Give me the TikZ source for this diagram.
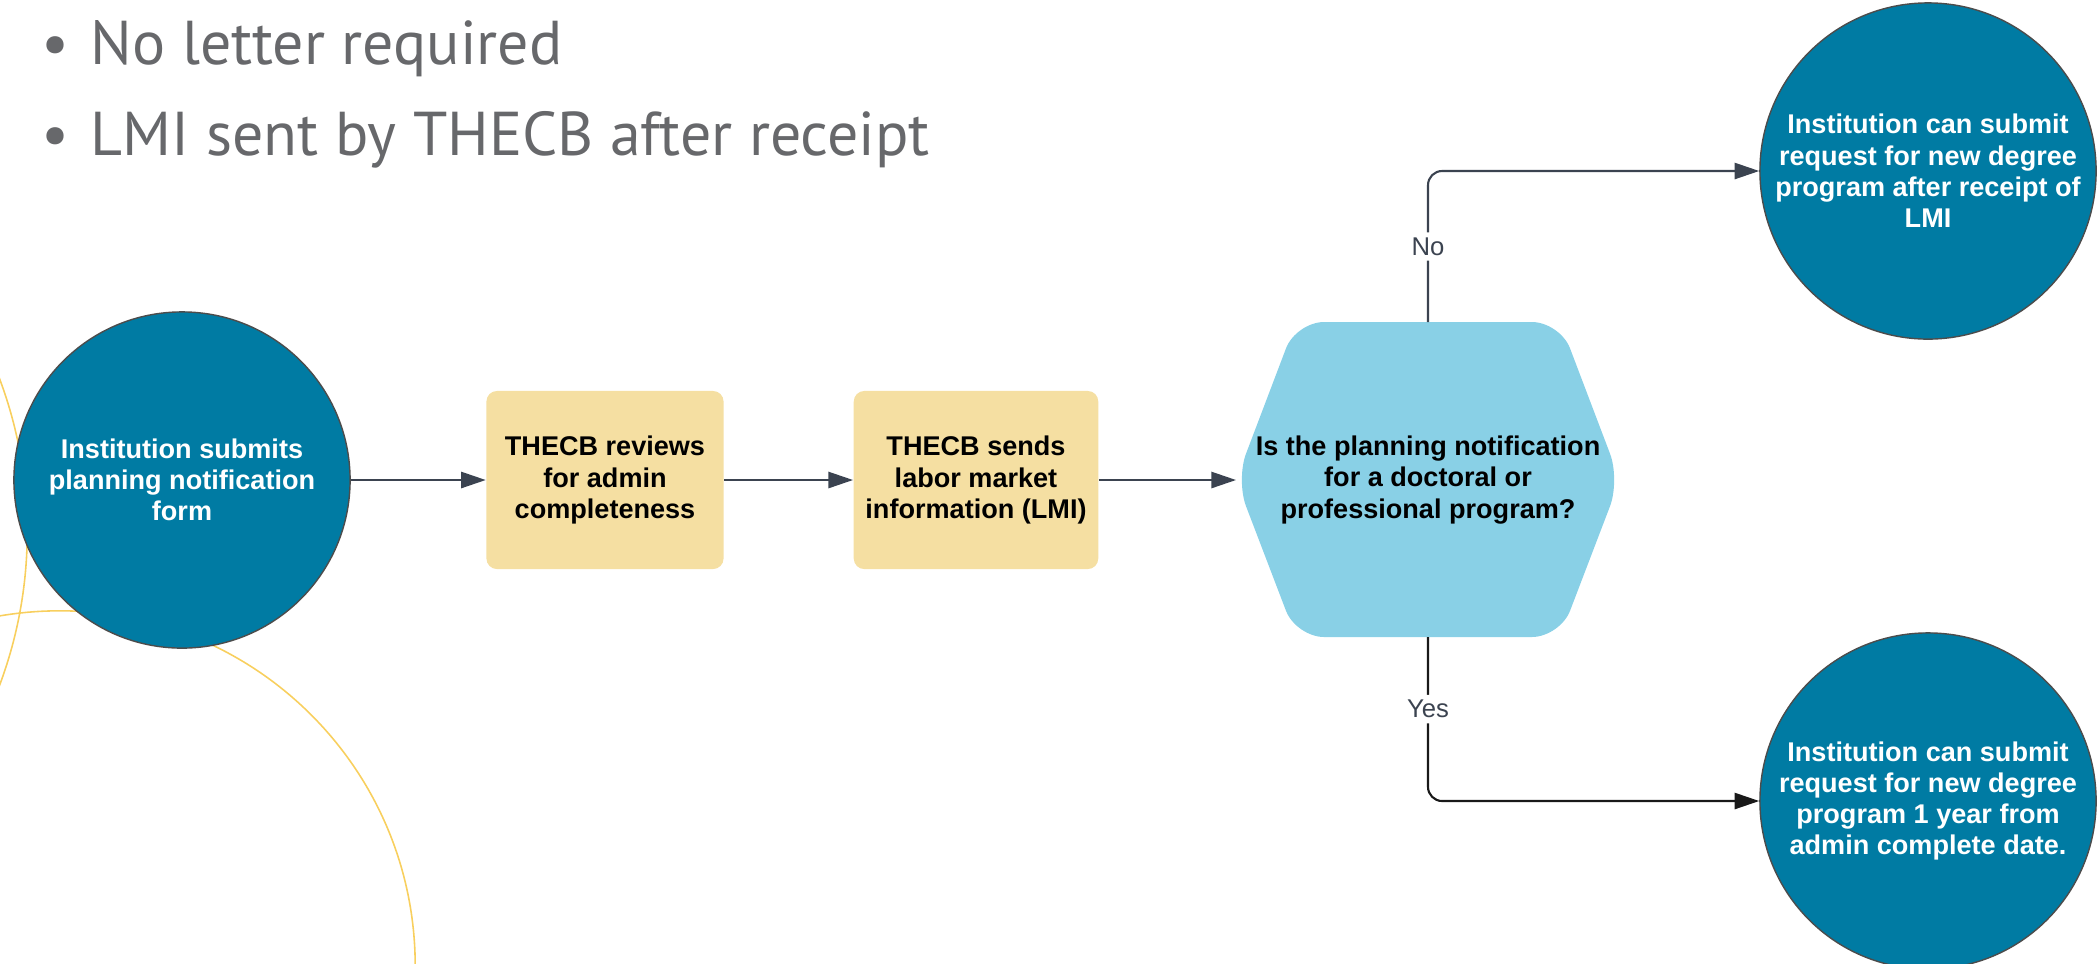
\documentclass[tikz,border=0pt]{standalone}
\usepackage{fontspec}
\usetikzlibrary{arrows.meta,positioning}
\newfontfamily\arialf{Liberation Sans}
\newfontfamily\ptsans{PT Sans}
\definecolor{thecbblue}{HTML}{007BA3}
\definecolor{boxtan}{HTML}{F5DFA2}
\definecolor{hexblue}{HTML}{89D0E6}
\definecolor{linegray}{HTML}{3B4350}
\definecolor{goldline}{HTML}{F8CF5E}
\definecolor{bulletgray}{HTML}{67686B}

\begin{document}
\begin{tikzpicture}[x=0.01cm,y=-0.01cm,
    bluecirc/.style={circle,fill=thecbblue,draw=black!70,line width=0.4pt,minimum size=3.36cm,inner sep=0pt,
      text=white,align=center,font=\arialf\bfseries\fontsize{7.7}{8.9}\selectfont},
    tanbox/.style={rectangle,rounded corners=3pt,fill=boxtan,minimum width=2.37cm,minimum height=1.78cm,
      align=center,font=\arialf\bfseries\fontsize{7.7}{8.9}\selectfont},
    flow/.style={line width=0.6pt,draw=linegray,-{Triangle[length=7pt,width=4.6pt]}},
    lbl/.style={fill=white,text=linegray,inner sep=1.5pt,font=\arialf\fontsize{7.3}{9}\selectfont},
    bul/.style={anchor=base west,inner sep=0pt,text=bulletgray,font=\ptsans\fontsize{17.6}{21}\selectfont}]
  \useasboundingbox (0,0) rectangle (2098,963);
  % background arcs
  \draw[goldline,line width=0.45pt] (-409,532) circle (4.36cm);
  \draw[goldline,line width=0.45pt] (60,966) circle (3.55cm);
  % bullets
  \node[bul] (t1) at (41,64) {\makebox[0.49cm][l]{•}No letter required};
  \node[bul] (t2) at (41,155) {\makebox[0.49cm][l]{•}LMI sent by THECB after receipt};
  % steps
  \node[bluecirc] (c1) at (182,480) {Institution submits\\planning notification\\form};
  \node[tanbox] (b1) at (605,480) {THECB reviews\\for admin\\completeness};
  \node[tanbox] (b2) at (976,480) {THECB sends\\labor market\\information (LMI)};
  \fill[hexblue,rounded corners=8pt] (1236,480) -- (1296,322) -- (1560,322) -- (1620,480)
    -- (1560,637) -- (1296,637) -- cycle;
  \node[align=center,font=\arialf\bfseries\fontsize{7.7}{8.9}\selectfont] (q) at (1428,480)
    {Is the planning notification\\for a doctoral or\\professional program?};
  \coordinate (qw) at (1236,480);
  \coordinate (qn) at (1428,322);
  \coordinate (qs) at (1428,637);
  \node[bluecirc] (c2) at (1928,171) {Institution can submit\\request for new degree\\program after receipt of\\LMI};
  \node[bluecirc] (c3) at (1928,801) {Institution can submit\\request for new degree\\program 1 year from\\admin complete date.};
  % arrows
  \draw[flow] (c1) -- (b1);
  \draw[flow] (b1) -- (b2);
  \draw[flow] (b2) -- (qw);
  \draw[flow,rounded corners=4pt] (qn) |- node[lbl,pos=0.25] {No} (c2);
  \draw[flow,draw=black!90,rounded corners=4pt] (qs) |- node[lbl,pos=0.22] {Yes} (c3);
\end{tikzpicture}
\end{document}
